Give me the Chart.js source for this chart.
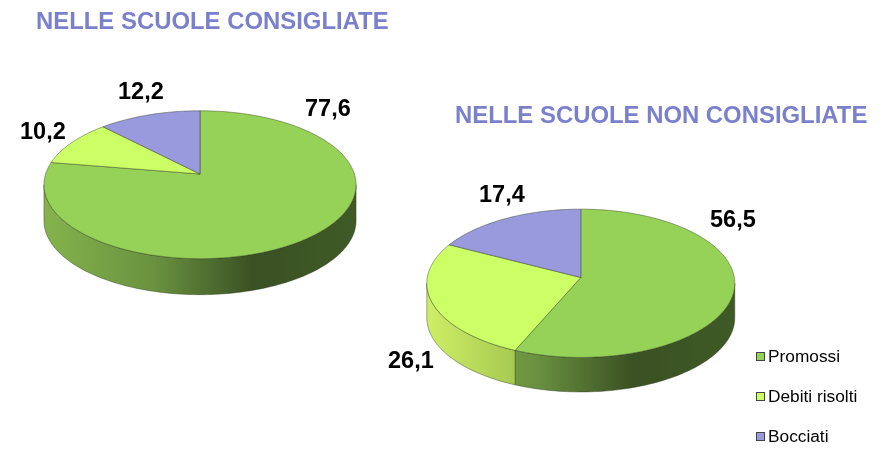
<!DOCTYPE html>
<html lang="it">
<head>
<meta charset="utf-8">
<title>Scuole consigliate</title>
<script src="https://cdn.jsdelivr.net/npm/chart.js@4"></script>
<style>
    html, body { margin: 0; padding: 0; background: #fff; }
    #stage { position: relative; width: 883px; height: 458px; overflow: hidden; font-family: "Liberation Sans", Arial, sans-serif; }
    canvas { position: absolute; left: 0; top: 0; }
    .title { position: absolute; color: #7b80cd; font-size: 23.9px; font-weight: bold; white-space: nowrap; line-height: 26px; }
    .value { position: absolute; color: #000; font-size: 23.5px; font-weight: bold; line-height: 26px; }
    .legend-row { position: absolute; left: 756px; color: #000; font-size: 17.3px; line-height: 18px; white-space: nowrap; }
    .legend-row i { display: inline-block; width: 7px; height: 7px; border: 1px solid #444; margin-right: 3px; vertical-align: 1px; }
</style>
</head>
<body>
<div id="stage">
    <canvas id="pieLeft" width="883" height="458"></canvas>
    <canvas id="pieRight" width="883" height="458"></canvas>
</div>
<script>
// DATI
const categories = ['Promossi', 'Debiti risolti', 'Bocciati'];
const consigliate = [77.6, 10.2, 12.2];
const nonConsigliate = [56.5, 26.1, 17.4];
const titles = ['NELLE SCUOLE CONSIGLIATE', 'NELLE SCUOLE NON CONSIGLIATE'];

// COLORI
const topColors = ['#96d158', '#ccff66', '#9999dd'];
const sideStops = [
    [[0, '#84b34c'], [0.35, '#6a9240'], [0.67, '#3a5123'], [1, '#3f5a26']],
    [[0, '#cfee66'], [0.3, '#a4c850'], [1, '#8fb045']],
    [[0, '#6f6fa8'], [1, '#55558a']]
];

// GEOMETRIA DELLE TORTE
const leftPie = { x: 200, y: 174, r: 154.4, squash: 72.4 / 154.4, persp: 0.145, depth: 36 };
const rightPie = { x: 580.8, y: 277.5, r: 153.5, squash: 73.7 / 153.5, persp: 0.078, depth: 34.5 };

// circle point -> tilted screen point (the chart's own arc angles go in)
function project(p, angle) {
    const u = Math.cos(angle), v = Math.sin(angle);
    const w = 1 - p.persp * v;
    return [p.x + p.r * u / w, p.y + p.r * p.squash * v / w];
}

function arcPoints(p, from, to) {
    const pts = [];
    const steps = Math.max(2, Math.ceil(Math.abs(to - from) * 40));
    for (let i = 0; i <= steps; i++) {
        pts.push(project(p, from + (to - from) * i / steps));
    }
    return pts;
}

function drawSide(ctx, p, arc, index) {
    const edge = Math.asin(p.persp);
    const from = Math.max(arc.startAngle, edge);
    const to = Math.min(arc.endAngle, Math.PI - edge);
    if (to <= from) return;
    const pts = arcPoints(p, from, to);
    const grad = ctx.createLinearGradient(p.x - p.r, 0, p.x + p.r, 0);
    sideStops[index].forEach(s => grad.addColorStop(s[0], s[1]));
    ctx.beginPath();
    pts.forEach((q, i) => i ? ctx.lineTo(q[0], q[1]) : ctx.moveTo(q[0], q[1]));
    pts.slice().reverse().forEach(q => ctx.lineTo(q[0], q[1] + p.depth));
    ctx.closePath();
    ctx.fillStyle = grad;
    ctx.fill();
    ctx.strokeStyle = 'rgba(40,50,25,0.7)';
    ctx.lineWidth = 0.6;
    ctx.stroke();
}

function drawTop(ctx, p, arc, index) {
    const pts = arcPoints(p, arc.startAngle, arc.endAngle);
    ctx.beginPath();
    ctx.moveTo(p.x, p.y);
    pts.forEach(q => ctx.lineTo(q[0], q[1]));
    ctx.closePath();
    ctx.fillStyle = topColors[index];
    ctx.fill();
    ctx.strokeStyle = 'rgba(40,50,25,0.7)';
    ctx.lineWidth = 0.6;
    ctx.stroke();
}

// PIE INCLINATA
const tiltPlugin = {
    id: 'tilt',
    beforeDatasetsDraw(chart, args, opts) {
        const ctx = chart.ctx;
        const arcs = chart.getDatasetMeta(0).data;
        ctx.save();
        arcs.forEach((arc, i) => drawSide(ctx, opts.pie, arc, i));
        arcs.forEach((arc, i) => drawTop(ctx, opts.pie, arc, i));
        ctx.restore();
        return false;
    }
};

function makePie(id, values, pie) {
    new Chart(document.getElementById(id), {
        type: 'pie',
        data: { labels: categories, datasets: [{ data: values, backgroundColor: topColors, borderWidth: 0 }] },
        options: {
            responsive: false,
            animation: false,
            // padding leaves the chart area as a square round the pie centre
            layout: { padding: { left: pie.x - pie.r, right: 883 - pie.x - pie.r, top: pie.y - pie.r, bottom: 458 - pie.y - pie.r } },
            plugins: { legend: { display: false }, tooltip: { enabled: false }, tilt: { pie: pie } }
        },
        plugins: [tiltPlugin]
    });
}

makePie('pieLeft', consigliate, leftPie);
makePie('pieRight', nonConsigliate, rightPie);

// TESTI
const stage = document.getElementById('stage');
function addText(cls, text, x, y) {
    const el = document.createElement('div');
    el.className = cls;
    el.textContent = text;
    el.style.left = x + 'px';
    el.style.top = y + 'px';
    stage.appendChild(el);
}

addText('title', titles[0], 36, 8);
addText('title', titles[1], 455, 102);

const fmt = v => v.toFixed(1).replace('.', ',');
addText('value', fmt(consigliate[0]), 305, 95);
addText('value', fmt(consigliate[1]), 20, 118);
addText('value', fmt(consigliate[2]), 118, 78);
addText('value', fmt(nonConsigliate[0]), 710, 206);
addText('value', fmt(nonConsigliate[1]), 388, 347);
addText('value', fmt(nonConsigliate[2]), 479, 181);

const legendTops = [347, 387, 427];
categories.forEach((name, i) => {
    const row = document.createElement('div');
    row.className = 'legend-row';
    row.style.top = legendTops[i] + 'px';
    const box = document.createElement('i');
    box.style.background = topColors[i];
    row.appendChild(box);
    row.appendChild(document.createTextNode(name));
    stage.appendChild(row);
});
</script>
</body>
</html>
